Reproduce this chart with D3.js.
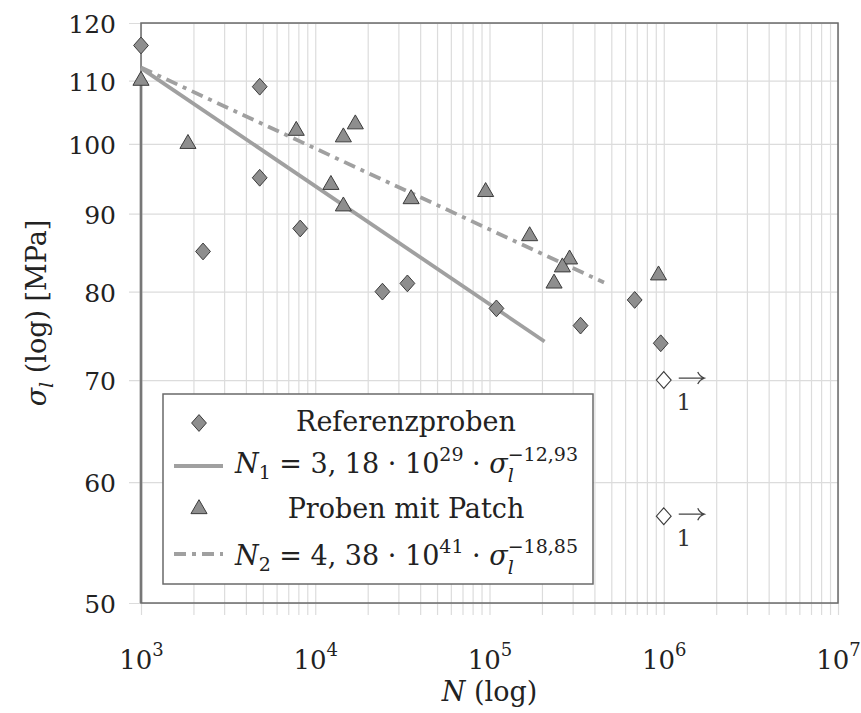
<!DOCTYPE html>
<html><head><meta charset="utf-8">
<script src="https://cdn.jsdelivr.net/npm/d3@7"></script>
<style>body{margin:0;background:#fff}</style>
</head><body><svg id="c" width="861" height="713"></svg>
<script>
// ---- data ----
const refN = [1000, 4800, 4800, 2270, 8200, 24300, 33800, 109600, 333000, 681000, 961000];
const refS = [116, 109, 95, 85, 88, 80, 81, 78, 76, 79, 74];
const patchN = [1000, 1860, 7780, 14500, 16980, 12300, 14500, 35500, 95000, 170000, 288000, 262000, 234700, 933000];
const patchS = [110, 100, 102, 101, 103, 94, 91, 92, 93, 87, 84, 83, 81, 82];
const runoutN = [1000000, 1000000];
const runoutS = [70, 57];
const runoutCount = ["1", "1"];
const fit1N = [1000, 207000];
const fit1S = [112.1, 74.2];
const fit2N = [1000, 454000];
const fit2S = [112.2, 81.1];
const xTickExp = [3, 4, 5, 6, 7];
const yTicks = [50, 60, 70, 80, 90, 100, 110, 120];
const legendLabels = ["Referenzproben", "N1", "Proben mit Patch", "N2"];

// ---- drawing ----
const FONT = "'DejaVu Serif', serif";
const svg = d3.select('#c').attr('font-family', FONT);
svg.append('rect').attr('width', 861).attr('height', 713).attr('fill', '#fff');

const X0 = 141, X1 = 838, Y0 = 603, Y1 = 23;
const x = d3.scaleLog().domain([1e3, 1e7]).range([X0, X1]);
const y = d3.scaleLog().domain([50, 120]).range([Y0, Y1]);

const GRID = '#dcdcdc', FRAME = '#6a6a6a', FITC = '#a0a0a0', MFILL = '#8e8e8e', MSTROKE = '#3c3c3c';

// minor + major vertical grid values
const xGridVals = [];
for (let k = 3; k < 7; k++) for (let m = 1; m < 10; m++) xGridVals.push(m * Math.pow(10, k));
xGridVals.push(1e7);

const gx = svg.append('g').attr('transform', `translate(0,${Y0 + 12})`)
  .call(d3.axisBottom(x).tickValues(xGridVals).tickSize(-(Y0 + 12 - Y1)).tickFormat(''));
gx.select('.domain').remove();
gx.selectAll('.tick line').attr('stroke', GRID).attr('stroke-width', 1.2);

const gy = svg.append('g').attr('transform', `translate(${X0 - 12},0)`)
  .call(d3.axisLeft(y).tickValues(yTicks).tickSize(-(X1 - X0 + 12)).tickFormat(''));
gy.select('.domain').remove();
gy.selectAll('.tick line').attr('stroke', GRID).attr('stroke-width', 1.2);

// tick labels
const gxl = svg.append('g').attr('transform', `translate(0,${Y0})`)
  .call(d3.axisBottom(x).tickValues(xTickExp.map(e => Math.pow(10, e))).tickSize(0).tickPadding(0));
gxl.select('.domain').remove();
gxl.selectAll('.tick text').each(function (d) {
  const t = d3.select(this);
  t.text(null).attr('font-family', FONT).attr('font-size', 26).attr('fill', '#222').attr('y', 66).attr('dy', null);
  t.append('tspan').text('10');
  t.append('tspan').attr('dy', -13).attr('font-size', 18).text(Math.round(Math.log10(d)));
});

const gyl = svg.append('g').attr('transform', `translate(${X0},0)`)
  .call(d3.axisLeft(y).tickValues(yTicks).tickSize(0).tickPadding(25).tickFormat(d3.format('d')));
gyl.select('.domain').remove();
gyl.selectAll('.tick text').attr('font-family', FONT).attr('font-size', 25).attr('fill', '#222').attr('dy', '0.38em');

// left thick gray line (from first patch point down)
svg.append('line').attr('x1', x(patchN[0])).attr('x2', x(patchN[0]))
  .attr('y1', y(patchS[0])).attr('y2', Y0).attr('stroke', FITC).attr('stroke-width', 3);

// frame
svg.append('rect').attr('x', X0).attr('y', Y1).attr('width', X1 - X0).attr('height', Y0 - Y1)
  .attr('fill', 'none').attr('stroke', FRAME).attr('stroke-width', 1.5);

// fit lines
const line = d3.line().x(d => x(d[0])).y(d => y(d[1]));
svg.append('path').attr('d', line(d3.zip(fit1N, fit1S))).attr('fill', 'none')
  .attr('stroke', FITC).attr('stroke-width', 3.8);
svg.append('path').attr('d', line(d3.zip(fit2N, fit2S))).attr('fill', 'none')
  .attr('stroke', FITC).attr('stroke-width', 3.8).attr('stroke-dasharray', '12,6,4,6');

// markers
const diamond = 'M0,-8.4L7.4,0L0,8.4L-7.4,0Z';
const tri = 'M0,-9.3L8.05,4.65L-8.05,4.65Z';

svg.append('g').selectAll('path').data(d3.zip(patchN, patchS)).join('path')
  .attr('d', tri).attr('transform', d => `translate(${x(d[0])},${y(d[1])})`)
  .attr('fill', MFILL).attr('stroke', MSTROKE).attr('stroke-width', 1);

svg.append('g').selectAll('path').data(d3.zip(refN, refS)).join('path')
  .attr('d', diamond).attr('transform', d => `translate(${x(d[0])},${y(d[1])})`)
  .attr('fill', MFILL).attr('stroke', MSTROKE).attr('stroke-width', 1);

// runouts
const ro = svg.append('g').selectAll('g').data(d3.zip(runoutN, runoutS, runoutCount)).join('g')
  .attr('transform', d => `translate(${x(d[0])},${y(d[1])})`);
ro.append('path').attr('d', diamond).attr('fill', '#fff').attr('stroke', MSTROKE).attr('stroke-width', 1.1);
ro.append('path').attr('d', 'M15,-2L40,-2M34,-8Q36,-3.5 40.5,-2Q36,-0.5 34,4').attr('fill', 'none')
  .attr('stroke', '#444').attr('stroke-width', 1.3);
ro.append('text').attr('x', 20).attr('y', 30).attr('text-anchor', 'middle').attr('font-size', 23)
  .attr('fill', '#333').text(d => d[2]);

// rich text helper
function rich(g, x0, yb, parts, fs) {
  let cx = x0;
  parts.forEach(p => {
    const items = p.stack || [p];
    let w = 0;
    items.forEach(q => {
      const t = g.append('text').attr('x', cx).attr('y', yb + (q.dy || 0))
        .attr('font-size', q.size || fs).attr('fill', '#222')
        .attr('font-style', q.it ? 'italic' : null).style('white-space', 'pre').text(q.t);
      w = Math.max(w, t.node().getComputedTextLength());
    });
    cx += w;
  });
  return cx - x0;
}

// legend
const lg = svg.append('g');
lg.append('rect').attr('x', 163).attr('y', 394).attr('width', 430).attr('height', 190)
  .attr('fill', '#fff').attr('stroke', FRAME).attr('stroke-width', 1.5);
lg.append('path').attr('d', diamond).attr('transform', 'translate(199,423)')
  .attr('fill', MFILL).attr('stroke', MSTROKE);
lg.append('text').attr('x', 406).attr('y', 431).attr('text-anchor', 'middle').attr('font-size', 27)
  .attr('fill', '#222').text(legendLabels[0]);
lg.append('line').attr('x1', 174).attr('x2', 223).attr('y1', 466).attr('y2', 466)
  .attr('stroke', FITC).attr('stroke-width', 3.8);
const sub = 19;
rich(lg, 235, 473, [
  { t: 'N', it: 1 }, { t: '1', size: sub, dy: 6 }, { t: ' = 3, 18 · 10' }, { t: '29', size: sub, dy: -12 },
  { t: ' · ' }, { t: 'σ', it: 1 },
  { stack: [{ t: 'l', it: 1, size: sub, dy: 9 }, { t: '−12,93', size: sub, dy: -12 }] }
], 27);
lg.append('path').attr('d', tri).attr('transform', 'translate(199,509)')
  .attr('fill', MFILL).attr('stroke', MSTROKE);
lg.append('text').attr('x', 406).attr('y', 518).attr('text-anchor', 'middle').attr('font-size', 27)
  .attr('fill', '#222').text(legendLabels[2]);
lg.append('line').attr('x1', 174).attr('x2', 223).attr('y1', 554).attr('y2', 554)
  .attr('stroke', FITC).attr('stroke-width', 3.8).attr('stroke-dasharray', '12,6,4,6');
rich(lg, 235, 565, [
  { t: 'N', it: 1 }, { t: '2', size: sub, dy: 6 }, { t: ' = 4, 38 · 10' }, { t: '41', size: sub, dy: -12 },
  { t: ' · ' }, { t: 'σ', it: 1 },
  { stack: [{ t: 'l', it: 1, size: sub, dy: 9 }, { t: '−18,85', size: sub, dy: -12 }] }
], 27);

// axis labels
const xl = svg.append('text').attr('x', (X0 + X1) / 2).attr('y', 701).attr('text-anchor', 'middle')
  .attr('font-size', 27).attr('fill', '#222');
xl.append('tspan').attr('font-style', 'italic').text('N');
xl.append('tspan').text(' (log)');

const yg = svg.append('g');
const wy = (function () {
  const tmp = svg.append('g').attr('opacity', 0);
  const w = rich(tmp, 0, 0, [{ t: 'σ', it: 1 }, { t: 'l', it: 1, size: sub, dy: 7 }, { t: ' (log) [MPa]' }], 27);
  tmp.remove();
  return w;
})();
const yc = (Y0 + Y1) / 2;
yg.attr('transform', `translate(46,${yc + wy / 2}) rotate(-90)`);
rich(yg, 0, 0, [{ t: 'σ', it: 1 }, { t: 'l', it: 1, size: sub, dy: 7 }, { t: ' (log) [MPa]' }], 27);
</script></body></html>
